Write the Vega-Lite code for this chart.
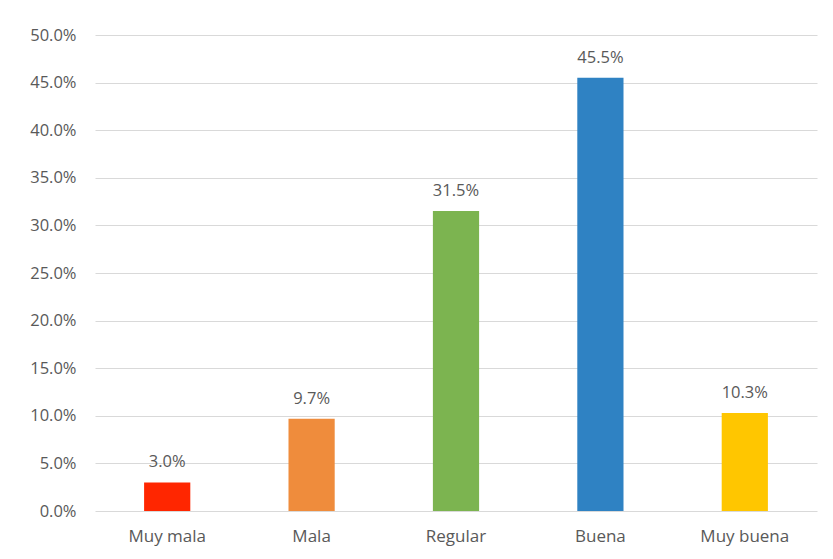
{
  "$schema": "https://vega.github.io/schema/vega-lite/v6.json",
  "width": 722,
  "height": 476,
  "autosize": {"type": "none"},
  "padding": {"left": 95, "top": 35, "right": 16, "bottom": 48},
  "background": "white",
  "config": {
    "view": {"stroke": null},
    "font": "Open Sans"
  },
  "data": {
    "values": [
      {"cat": "Muy mala", "value": 0.030},
      {"cat": "Mala", "value": 0.097},
      {"cat": "Regular", "value": 0.315},
      {"cat": "Buena", "value": 0.455},
      {"cat": "Muy buena", "value": 0.103}
    ]
  },
  "encoding": {
    "x": {
      "field": "cat",
      "type": "nominal",
      "sort": null,
      "scale": {"paddingInner": 0.68, "paddingOuter": 0.34},
      "axis": {
        "title": null,
        "labelAngle": 0,
        "labelFontSize": 17,
        "labelColor": "#595959",
        "labelPadding": 17,
        "ticks": false,
        "domain": false
      }
    },
    "y": {
      "field": "value",
      "type": "quantitative",
      "scale": {"domain": [0, 0.5]},
      "axis": {
        "title": null,
        "values": [0, 0.05, 0.1, 0.15, 0.2, 0.25, 0.3, 0.35, 0.4, 0.45, 0.5],
        "format": ".1%",
        "labelFontSize": 16.5,
        "labelColor": "#595959",
        "labelPadding": 19,
        "ticks": false,
        "domain": false,
        "gridColor": "#D9D9D9",
        "gridWidth": 1
      }
    }
  },
  "layer": [
    {
      "mark": {"type": "bar"},
      "encoding": {
        "color": {
          "field": "cat",
          "type": "nominal",
          "scale": {
            "domain": ["Muy mala", "Mala", "Regular", "Buena", "Muy buena"],
            "range": ["#FF2600", "#EF8C3C", "#7CB450", "#2F82C3", "#FFC600"]
          },
          "legend": null
        }
      }
    },
    {
      "mark": {"type": "text", "baseline": "bottom", "dy": -12, "fontSize": 16.5, "color": "#595959"},
      "encoding": {
        "text": {"field": "value", "type": "quantitative", "format": ".1%"}
      }
    }
  ]
}
